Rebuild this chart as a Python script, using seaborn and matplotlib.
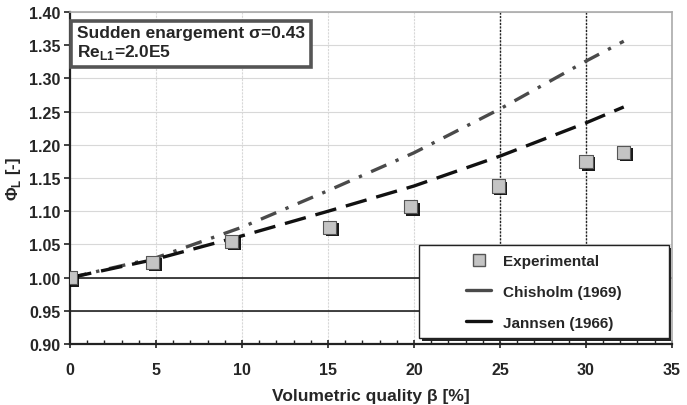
import numpy as np
import pandas as pd
import seaborn as sns
import matplotlib.pyplot as plt
from matplotlib.ticker import MultipleLocator
from matplotlib.lines import Line2D
from matplotlib.patches import Rectangle
import matplotlib.patheffects as pe

# experimental points
beta_exp = [0.0, 4.8, 9.4, 15.1, 19.8, 24.9, 30.0, 32.2]
phi_exp = [1.000, 1.023, 1.055, 1.076, 1.107, 1.138, 1.175, 1.189]

# model curves
beta_mod = [0, 5, 10, 15, 20, 25, 30, 32.2]
phi_chisholm = [1.000, 1.030, 1.076, 1.131, 1.188, 1.254, 1.326, 1.356]
phi_jannsen = [1.000, 1.028, 1.063, 1.100, 1.138, 1.183, 1.233, 1.257]

xticks = [0, 5, 10, 15, 20, 25, 30, 35]
yticks = [0.90, 0.95, 1.00, 1.05, 1.10, 1.15, 1.20, 1.25, 1.30, 1.35, 1.40]

sns.set_style("white")
plt.rcParams['font.family'] = ['Liberation Sans', 'DejaVu Sans']
plt.rcParams['font.weight'] = 'bold'

fig = plt.figure(figsize=(6.87, 4.06), dpi=100)
ax = fig.add_axes([0.102, 0.150, 0.876, 0.818])

# grid
for yt in yticks:
    ax.axhline(yt, color='#d8d8d8', lw=0.8, zorder=0)
for xt in xticks:
    ax.axvline(xt, color='#d8d8d8', lw=0.8, ls=(0, (2, 1)), zorder=0)

# reference lines
ax.axhline(1.00, color='#222222', lw=1.2, zorder=1)
ax.axhline(0.95, color='#222222', lw=1.2, zorder=1)
ax.axvline(25, color='#222222', lw=1.0, ls=(0, (1.5, 1)), zorder=1)
ax.axvline(30, color='#222222', lw=1.0, ls=(0, (1.5, 1)), zorder=1)

df_mod = pd.DataFrame({'beta': beta_mod, 'chisholm': phi_chisholm, 'jannsen': phi_jannsen})
sns.lineplot(data=df_mod, x='beta', y='chisholm', ax=ax, color='#4a4a4a', lw=2.4,
             legend=False, zorder=3)
ax.lines[-1].set_dashes([5, 3, 1, 3])
sns.lineplot(data=df_mod, x='beta', y='jannsen', ax=ax, color='#111111', lw=2.4,
             legend=False, zorder=3)
ax.lines[-1].set_dashes([6.5, 3])

df_exp = pd.DataFrame({'beta': beta_exp, 'phi': phi_exp})
sns.scatterplot(data=df_exp, x='beta', y='phi', ax=ax, marker='s', s=90,
                color='#c4c4c4', edgecolor='#555555', linewidth=0.8,
                legend=False, zorder=5,
                path_effects=[pe.SimplePatchShadow(offset=(1.8, -1.8), shadow_rgbFace='black', alpha=0.9),
                              pe.Normal()])

ax.set_xlim(0, 35)
ax.set_ylim(0.90, 1.40)
ax.set_xticks(xticks)
ax.set_yticks(yticks)
ax.set_yticklabels([f'{v:.2f}' for v in yticks])
ax.xaxis.set_minor_locator(MultipleLocator(1))
ax.tick_params(axis='x', which='major', direction='inout', length=6, width=1.2,
               labelsize=11.5, pad=10, bottom=True, color='#222222')
ax.tick_params(axis='x', which='minor', direction='in', length=3, width=1.0, bottom=True, color='#222222')
ax.tick_params(axis='y', which='major', direction='out', length=4, width=1.2,
               labelsize=11.5, pad=3, left=True, color='#222222')

for side in ['left', 'bottom']:
    ax.spines[side].set_color('#222222')
    ax.spines[side].set_linewidth(1.6)
for side in ['top', 'right']:
    ax.spines[side].set_color('#aaaaaa')
    ax.spines[side].set_linewidth(1.2)

ax.set_xlabel('Volumetric quality β [%]', fontsize=12.5, fontweight='bold', labelpad=8)
ax.set_ylabel('Φ$_\\mathregular{L}$ [-]', fontsize=12, fontweight='bold', labelpad=4)

# legend box drawn by hand, contents centred inside
lx0, ly0, lx1, ly1 = 0.580, 0.017, 0.995, 0.298
ax.add_patch(Rectangle((lx0 + 0.004, ly0 - 0.008), lx1 - lx0, ly1 - ly0, transform=ax.transAxes,
                       fc='#222222', ec='none', zorder=6))
ax.add_patch(Rectangle((lx0, ly0), lx1 - lx0, ly1 - ly0, transform=ax.transAxes,
                       fc='white', ec='#222222', lw=1.0, zorder=7))
handles = [
    Line2D([], [], ls='none', marker='s', ms=8, mfc='#c4c4c4', mec='#555555'),
    Line2D([], [], color='#4a4a4a', lw=2.4),
    Line2D([], [], color='#111111', lw=2.4),
]
labels = ['Experimental', 'Chisholm (1969)', 'Jannsen (1966)']
leg = ax.legend(handles, labels, loc='center', bbox_to_anchor=((lx0 + lx1) / 2, (ly0 + ly1) / 2),
                fontsize=11, frameon=False, labelspacing=1.1, handlelength=1.6,
                handletextpad=0.8, borderaxespad=0)
leg.set_zorder(8)
for t in leg.get_texts():
    t.set_fontweight('bold')

ax.text(0.012, 0.962, 'Sudden enargement σ=0.43\nRe$_\\mathregular{L1}$=2.0E5',
        transform=ax.transAxes, fontsize=12.5, fontweight='bold', va='top', ha='left',
        linespacing=1.15, zorder=9,
        bbox=dict(boxstyle='square,pad=0.35', fc='white', ec='#555555', lw=2.6))

fig.savefig('out.png', dpi=100)
